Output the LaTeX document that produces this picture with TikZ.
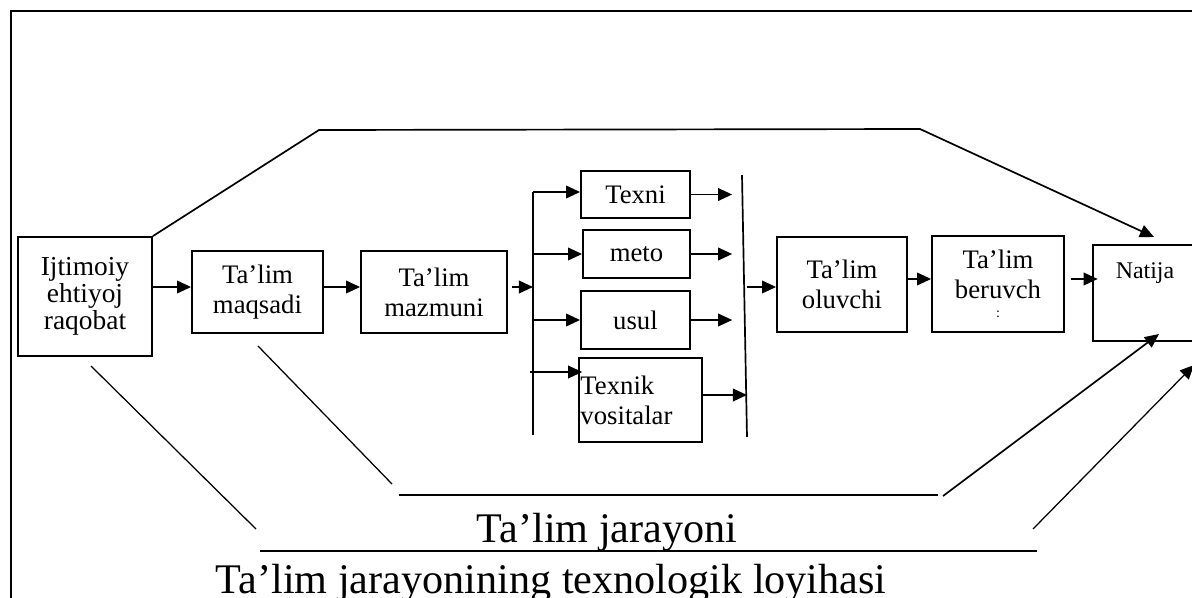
\documentclass[tikz,border=0pt]{standalone}
\usepackage{fontspec}
\setmainfont{Liberation Serif}
\usetikzlibrary{arrows.meta}

\begin{document}
\begin{tikzpicture}[x=0.025cm,y=-0.025cm,>={Triangle[length=10pt,width=9pt]},line width=1.2pt,
    box node/.style={draw,line width=1.3pt,inner sep=0pt,align=center,font=\fontsize{19}{21.5}\selectfont},
    big text/.style={font=\fontsize{30}{32}\selectfont,inner sep=0pt,anchor=base},
    thin line/.style={line width=0.9pt}]
    \clip (0,0) rectangle (1192,598);
    \draw[line width=1.6pt] (11,620) -- (11,11) -- (1220,11);

    % boxes
    \node[box node,minimum width=3.35cm,minimum height=2.975cm,font=\fontsize{19.5}{19}\selectfont] (ijt) at (85,296.5) {Ijtimoiy\\ehtiyoj\\raqobat};
    \node[box node,minimum width=3.275cm,minimum height=2.05cm] (maq) at (257.5,292) {Ta’lim\\maqsadi};
    \node[box node,minimum width=3.65cm,minimum height=2.05cm] (maz) at (434,292) {Ta’lim\\mazmuni};
    \node[box node,minimum width=2.725cm,minimum height=1.175cm] (tex) at (635.5,194.5) {Texni};
    \node[box node,minimum width=2.675cm,minimum height=1.2cm] (met) at (636.5,254) {meto};
    \node[box node,minimum width=2.725cm,minimum height=1.45cm] (usl) at (635.5,320) {usul};
    \node[box node,minimum height=2.1cm,text width=3.0cm,inner xsep=0.04cm,align=left] (vos) at (640.5,400) {Texnik\\vositalar};
    \node[box node,minimum width=3.25cm,minimum height=2.375cm] (olu) at (842,284.5) {Ta’lim\\oluvchi};
    \node[box node,minimum width=3.3cm,minimum height=2.4cm] (ber) at (998,284) {Ta’lim\\beruvch\\[-8pt]{\fontsize{10}{10}\selectfont :}};
    \node[box node,minimum width=2.675cm,minimum height=2.4cm] (nat) at (1146.5,293) {};
    \node[font=\fontsize{17}{19}\selectfont,inner sep=0pt,anchor=base] (natxt) at (1145,278) {Natija};

    % rows and bends
    \coordinate (ya) at (0,287);
    \coordinate (yb) at (0,279);
    \coordinate (yv) at (0,372);
    \coordinate (yw) at (0,395);
    \coordinate (l1t) at (533,192);
    \coordinate (l1b) at (533,435);
    \coordinate (l2t) at (742,175);
    \coordinate (l2b) at (747,437);
    \coordinate (tl) at (319,130);
    \coordinate (tr) at (920,129);
    \coordinate (ntop) at (1154,237);
    \coordinate (ma) at (258,346);
    \coordinate (mb) at (392,484);
    \coordinate (mc) at (399,495);
    \coordinate (md) at (938,495);
    \coordinate (me) at (943,496);
    \coordinate (nbot) at (1159,334);
    \coordinate (oa) at (91,366);
    \coordinate (ob) at (256,529);
    \coordinate (oc) at (260,551);
    \coordinate (od) at (1037,551);
    \coordinate (oe) at (1033,529);
    \coordinate (nfar) at (1194,365);

    \draw (l1t) -- (l1b);
    \draw (l2t) -- (l2b);

    \path[->]
        (ijt.east |- ya) edge (maq.west |- ya)
        (maq.east |- ya) edge (maz.west |- ya)
        (maz.east |- ya) edge[shorten <=3pt] (l1t |- ya)
        (l1t) edge (tex.west |- l1t)
        (l1t |- met.west) edge (met.west)
        (l1t |- usl.west) edge (usl.west)
        ([xshift=-2pt]l1t |- yv) edge ([xshift=3pt]vos.west |- yv)
        (tex.east) edge[shorten >=7pt] (tex.east -| l2t)
        (met.east) edge[shorten >=7pt] (met.east -| l2t)
        (usl.east) edge[shorten >=7pt] (usl.east -| l2t)
        (vos.east |- yw) edge (l2b |- yw)
        (l2b |- ya) edge (olu.west |- ya)
        (olu.east |- yb) edge (ber.west |- yb)
        (ber.east |- yb) edge[shorten <=4pt,shorten >=-4pt] (nat.west |- yb)
        ;

    % process outline
    \draw[->] (ijt.north east) -- (tl) -- (tr) -- (ntop);
    \draw[thin line] (ma) -- (mb);
    \draw (mc) -- (md);
    \draw[->] (me) -- (nbot);
    \draw[thin line] (oa) -- (ob);
    \draw (oc) -- (od);
    \draw[->,thin line] (oe) -- (nfar);

    \node[big text] (jar) at (607,542) {Ta’lim jarayoni};
    \node[big text,anchor=base west] (loy) at (215,593) {Ta’lim jarayonining texnologik loyihasi};
\end{tikzpicture}
\end{document}
